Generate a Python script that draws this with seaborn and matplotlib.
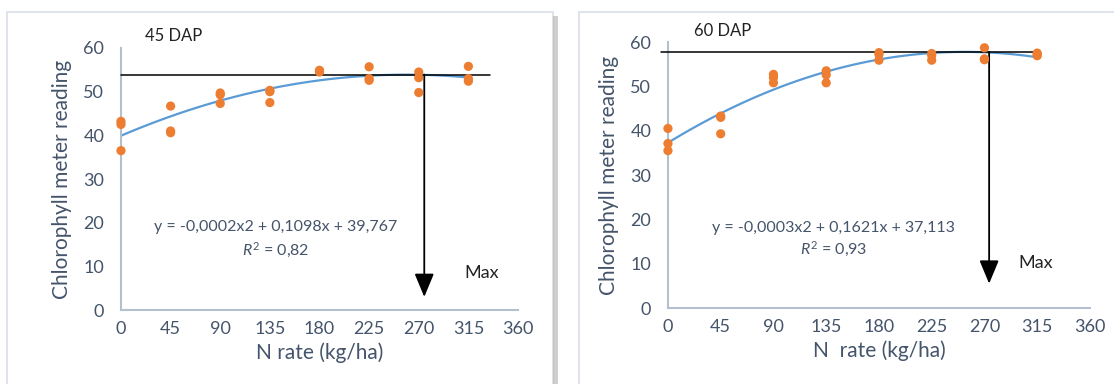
import numpy as np
import pandas as pd
import matplotlib.pyplot as plt
import seaborn as sns
from matplotlib.patches import Rectangle

# N rates and three readings per rate
n_rate = [0, 45, 90, 135, 180, 225, 270, 315]
spad_45 = [[43.2, 42.5, 36.5], [46.7, 41.0, 40.6], [49.7, 49.3, 47.3], [50.3, 50.0, 47.5],
           [54.9, 54.7, 54.5], [55.7, 53.0, 52.6], [54.5, 53.2, 49.8], [55.8, 53.0, 52.4]]
spad_60 = [[40.5, 37.1, 35.5], [43.3, 43.0, 39.3], [52.7, 52.0, 50.8], [53.5, 52.6, 50.8],
           [57.6, 57.2, 55.9], [57.4, 57.0, 55.9], [58.7, 56.2, 56.0], [57.5, 57.2, 56.9]]
max_n = [275, 274]  # where the "Max" arrows sit
labels = ['45 DAP', '60 DAP']
equations = ['y = -0,0002x2 + 0,1098x + 39,767', 'y = -0,0003x2 + 0,1621x + 37,113']
r2 = ['0,82', '0,93']
xlabels = ['N rate (kg/ha)', 'N  rate (kg/ha)']

sns.set_theme(style='white')
plt.rcParams['font.family'] = ['Lato', 'DejaVu Sans']
plt.rcParams['mathtext.fontset'] = 'custom'
plt.rcParams['mathtext.rm'] = 'Lato'
plt.rcParams['mathtext.it'] = 'Lato:italic'

txt_col = '#44546a'
ax_col = '#b4bfd0'

fig = plt.figure(figsize=(11.14, 3.84), dpi=100)

# panel frames
fig.patches.append(Rectangle((7/1114, -0.05), 546/1114, 1.05 - 12/384, transform=fig.transFigure,
                             fill=False, edgecolor='#d9dee6', lw=1.2))
fig.patches.append(Rectangle((553/1114, -0.05), 5/1114, 1.05 - 16/384, transform=fig.transFigure,
                             facecolor='#b0b0b0', edgecolor='none', alpha=0.6))
fig.patches.append(Rectangle((579/1114, -0.05), 0.6, 1.05 - 12/384, transform=fig.transFigure,
                             fill=False, edgecolor='#d9dee6', lw=1.2))

axes = [fig.add_axes([0.1086, 0.1927, 0.3564, 0.6823]),
        fig.add_axes([0.5996, 0.1979, 0.3788, 0.6927])]
eq_pos = [(140, 19, 13.6), (141, 18.0, 13.1)]
max_pos = [(327, 8.5), (314, 10.2)]
line_x = [(0, 335), (-6, 311)]
arrow_end = [3, 5.5]

for i, ax in enumerate(axes):
    vals = spad_45 if i == 0 else spad_60
    df = pd.DataFrame({'N': np.repeat(n_rate, 3), 'SPAD': np.array(vals).ravel()})

    sns.regplot(data=df, x='N', y='SPAD', order=2, ci=None, scatter=False, truncate=True,
                line_kws={'color': '#5b9bd5', 'lw': 1.6, 'zorder': 2}, ax=ax)
    sns.scatterplot(data=df, x='N', y='SPAD', color='#ed7d31', s=44, edgecolor='none',
                    zorder=4, clip_on=False, ax=ax)

    # plateau level of the quadratic fit
    c = np.polyfit(df['N'], df['SPAD'], 2)
    ym = np.polyval(c, -c[1] / (2 * c[0]))
    ax.plot(line_x[i], [ym, ym], color='black', lw=1.1, zorder=3, clip_on=False)
    ax.annotate('', xy=(max_n[i], arrow_end[i]), xytext=(max_n[i], ym),
                arrowprops=dict(arrowstyle='-|>,head_width=0.5,head_length=1.2', color='black', lw=1.3,
                                shrinkA=0, shrinkB=0), zorder=3)

    ax.text(eq_pos[i][0], eq_pos[i][1], equations[i], ha='center', va='center', fontsize=11.5, color=txt_col)
    ax.text(eq_pos[i][0], eq_pos[i][2], '$R^2$ = ' + r2[i], ha='center', va='center', fontsize=11.5,
            color=txt_col)
    ax.text(max_pos[i][0], max_pos[i][1], 'Max', ha='center', va='center', fontsize=13, color='#222222')
    ax.text(22, 61 if i == 0 else 60.6, labels[i], ha='left', va='bottom', fontsize=12,
            color='#222222', clip_on=False)

    ax.set_xlim(0, 360)
    ax.set_ylim(0, 60)
    ax.set_xticks(range(0, 361, 45))
    ax.set_yticks(range(0, 61, 10))
    for s in ['top', 'right']:
        ax.spines[s].set_visible(False)
    for s in ['left', 'bottom']:
        ax.spines[s].set_color(ax_col)
        ax.spines[s].set_linewidth(1.5)
    ax.tick_params(axis='both', direction='inout', length=12, width=1.5, color=ax_col,
                   labelcolor=txt_col, labelsize=13, pad=2)
    ax.tick_params(axis='y', pad=6)
    ax.set_xlabel(xlabels[i], fontsize=15, color=txt_col, labelpad=4)
    ax.set_ylabel('Chlorophyll meter reading', fontsize=15, color=txt_col, labelpad=8)
    ax.set_facecolor('none')

plt.savefig('out.png', dpi=100)
